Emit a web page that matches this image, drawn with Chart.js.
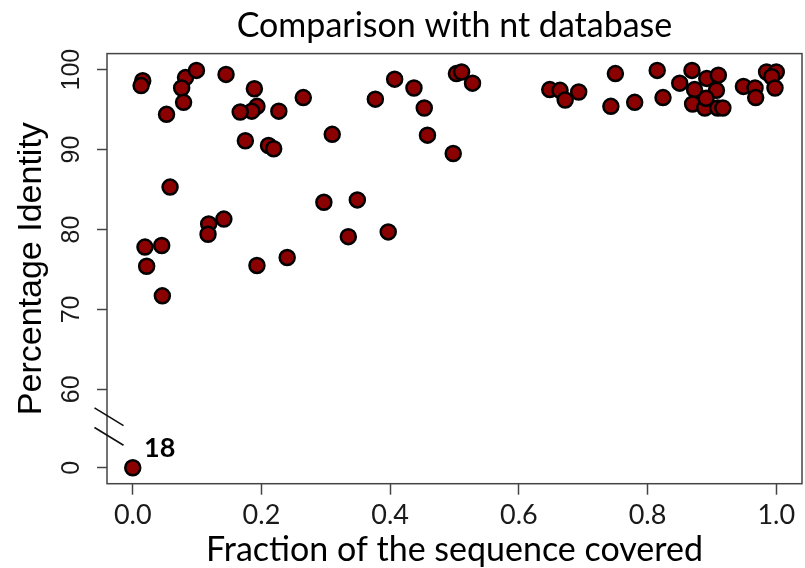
<!DOCTYPE html>
<html><head><meta charset="utf-8">
<script src="https://cdn.jsdelivr.net/npm/chart.js@4.4.1/dist/chart.umd.min.js"></script>
<style>
html,body{margin:0;padding:0;background:#fff;overflow:hidden;width:805px;height:568px;}
#wrap{position:absolute;left:0;top:0;width:812px;height:568px;}
</style></head><body>
<div id="wrap"><canvas id="c" width="812" height="568"></canvas></div>
<script>
const titleText = 'Comparison with nt database';
const xAxisTitle = 'Fraction of the sequence covered';
const yAxisTitle = 'Percentage Identity';
const xValues = [0.0155,0.013,0.082,0.099,0.076,0.079,0.0525,0.145,0.189,0.193,0.185,0.167,0.227,0.265,0.175,0.211,0.219,0.310,0.058,0.297,0.118,0.117,0.1416,0.019,0.045,0.0216,0.193,0.240,0.046,0.377,0.407,0.437,0.453,0.458,0.498,0.503,0.511,0.528,0.648,0.664,0.672,0.349,0.335,0.397,0.693,0.750,0.743,0.780,0.815,0.824,0.850,0.869,0.892,0.910,0.873,0.907,0.870,0.889,0.909,0.917,0.891,0.949,0.967,0.968,0.985,1.0,0.993,0.998,0.0];
const yValues = [98.6,98.0,99.0,99.9,97.7,95.9,94.4,99.4,97.6,95.4,94.8,94.7,94.8,96.5,91.1,90.5,90.1,91.9,85.3,83.4,80.7,79.4,81.3,77.8,78.0,75.4,75.5,76.5,71.7,96.3,98.8,97.7,95.2,91.8,89.5,99.5,99.7,98.3,97.5,97.4,96.2,83.7,79.1,79.7,97.2,99.5,95.4,95.9,99.9,96.5,98.3,99.9,98.9,99.3,97.5,97.4,95.7,95.2,95.2,95.2,96.4,97.9,97.7,96.5,99.7,99.7,99.1,97.7,0];
const xTickValues = [0,0.2,0.4,0.6,0.8,1.0];
const xTickLabels = ['0.0','0.2','0.4','0.6','0.8','1.0'];
const yTickValues = [0,60,70,80,90,100];
const yTickLabels = ['0','60','70','80','90','100'];
const zeroCountLabel = '18';

// the y axis is broken between 0 and 60: 0 is drawn just below the break
const BREAK_POS = 50.2;
const toAxis = v => (v === 0 ? BREAK_POS : v);

const points = xValues.map((x, i) => ({x: x, y: toAxis(yValues[i])}));
const yAxisTicks = yTickValues.map(toAxis);

const decor = {
  id: 'decor',
  afterDraw(chart) {
    const ctx = chart.ctx, a = chart.chartArea;
    const xs = chart.scales.x, ys = chart.scales.y;
    ctx.save();
    // box
    ctx.strokeStyle = '#444';
    ctx.lineWidth = 1.5;
    ctx.strokeRect(a.left, a.top, a.right - a.left, a.bottom - a.top);
    // break marks
    const y60 = ys.getPixelForValue(60), y0 = ys.getPixelForValue(BREAK_POS);
    ctx.strokeStyle = '#111';
    ctx.lineWidth = 1.6;
    [0.35, 0.6].forEach(f => {
      const cy = y60 + f * (y0 - y60), cx = a.left + 2;
      ctx.beginPath();
      ctx.moveTo(cx - 14.5, cy - 8.9);
      ctx.lineTo(cx + 14.5, cy + 8.9);
      ctx.stroke();
    });
    // count label for the zero point
    const px = xs.getPixelForValue(0), py = ys.getPixelForValue(BREAK_POS);
    ctx.fillStyle = '#000';
    ctx.font = 'bold 27px Lato';
    ctx.textAlign = 'center';
    ctx.textBaseline = 'alphabetic';
    ctx.fillText(zeroCountLabel, px + 27, py - 11);
    ctx.restore();
  }
};

new Chart(document.getElementById('c'), {
  type: 'scatter',
  data: {
    datasets: [{
      data: points,
      backgroundColor: '#8b0000',
      borderColor: '#000',
      borderWidth: 2.5,
      pointRadius: 7.5,
      pointHoverRadius: 7.5
    }]
  },
  options: {
    responsive: false,
    animation: false,
    devicePixelRatio: 1,
    layout: {padding: {left: 0, right: 5, top: 0, bottom: 0}},
    plugins: {
      legend: {display: false},
      tooltip: {enabled: false},
      title: {
        display: true,
        text: titleText,
        fullSize: false,
        color: '#000',
        font: {family: 'Lato', size: 34, weight: 'normal', lineHeight: 1.2},
        padding: {top: 5.4, bottom: 7.4}
      }
    },
    scales: {
      x: {
        type: 'linear',
        min: -0.04,
        max: 1.04,
        afterBuildTicks: s => { s.ticks = xTickValues.map(v => ({value: v})); },
        afterFit: s => { s.height = 84.3; },
        grid: {drawOnChartArea: false, drawTicks: true, tickLength: 11, tickColor: '#444', tickWidth: 1.5},
        border: {display: false},
        ticks: {
          color: '#1a1a1a',
          font: {family: 'Lato', size: 27},
          padding: 4,
          maxRotation: 0,
          autoSkip: false,
          callback: (v, i) => xTickLabels[i]
        },
        title: {
          display: true,
          text: xAxisTitle,
          color: '#000',
          font: {family: 'Lato', size: 34, lineHeight: 1},
          padding: {top: 0, bottom: 1.2}
        }
      },
      y: {
        type: 'linear',
        min: 48.2,
        max: 102.0,
        afterBuildTicks: s => { s.ticks = yAxisTicks.map(v => ({value: v})); },
        afterFit: s => { s.width = 107; },
        grid: {drawOnChartArea: false, drawTicks: true, tickLength: 10, tickColor: '#444', tickWidth: 1.5},
        border: {display: false},
        ticks: {
          color: '#1a1a1a',
          font: {family: 'Liberation Sans', size: 25},
          padding: 4,
          minRotation: 90,
          maxRotation: 90,
          crossAlign: 'center',
          autoSkip: false,
          callback: (v, i) => yTickLabels[i]
        },
        title: {
          display: true,
          text: yAxisTitle,
          color: '#000',
          font: {family: 'Liberation Sans', size: 34, lineHeight: 1.2},
          padding: {top: 11, bottom: 0}
        }
      }
    }
  },
  plugins: [decor]
});
</script>
</body></html>
